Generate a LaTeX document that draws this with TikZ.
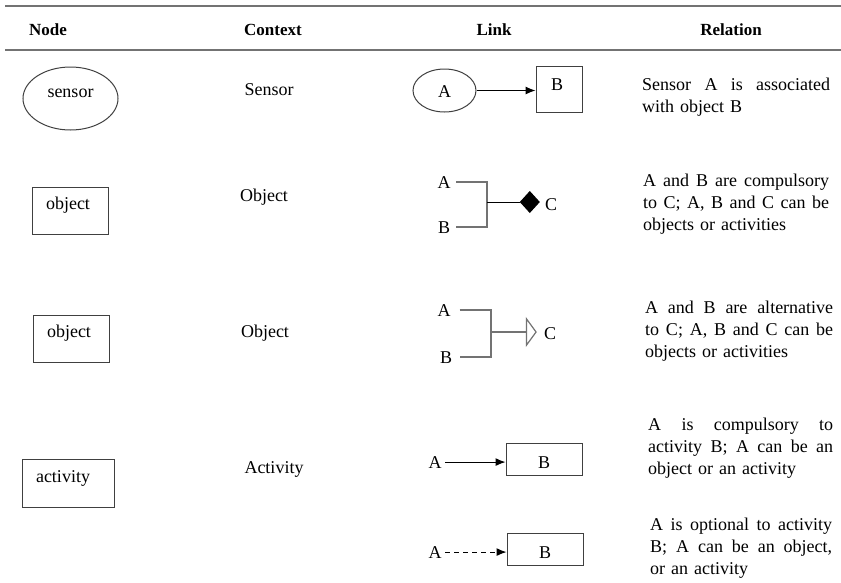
\documentclass[tikz,border=0pt]{standalone}
\usepackage{fontspec}
\setmainfont{Liberation Serif}
\usetikzlibrary{shapes.geometric,arrows.meta}
\newcommand{\jline}[2]{{\spaceskip=0pt\xspaceskip=0pt\makebox[#1][s]{#2}}}
\begin{document}
\begin{tikzpicture}[x=1pt,y=-1pt,
  every node/.style={font=\fontsize{18pt}{22pt}\selectfont, inner sep=0pt},
  hdr/.style={font=\fontsize{17pt}{22pt}\selectfont\bfseries, anchor=base},
  txt/.style={anchor=base},
  shp/.style={draw=black!75, line width=1pt},
  tablerule/.style={draw=black!55, line width=2pt},
  rel/.style={anchor=base west, align=left, text width=#1},
  arr/.style={-{Latex[length=10pt,width=8pt]}, line width=1pt},
  brk/.style={draw=black!55, line width=1.5pt},
]
\useasboundingbox (0,0) rectangle (841,582);
% table rules
\draw[tablerule] (5,6) -- (841,6);
\draw[tablerule] (5,50) -- (841,50);
% headers
\node[hdr] (hN) at (48,35) {Node};
\node[hdr] (hC) at (273,35) {Context};
\node[hdr] (hL) at (494,35) {Link};
\node[hdr] (hR) at (731,35) {Relation};

% ---- row 1
\node[shp, ellipse, minimum width=95pt, minimum height=63pt, text height=8pt, text depth=11pt] (sensor) at (70.5,98.5) {sensor};
\node[txt] (ctx1) at (269,95) {Sensor};
\node[shp, ellipse, minimum width=63pt, minimum height=43pt, text height=13pt, text depth=0pt] (a1) at (444.5,90.5) {A};
\node[shp, rectangle, minimum width=46pt, minimum height=46pt, text height=12pt, text depth=10pt] (b1) at (559,89) {B\kern4pt};
\draw[arr] (a1.east) -- (a1.east -| b1.west);
\node[rel=190pt] (r1) at (642,90) {\jline{188pt}{Sensor A is associated}\\with object B};

% ---- row 2
\node[shp, minimum width=76pt, minimum height=47pt, text height=8pt, text depth=11pt] (obj2) at (70,210.5) {object\kern4pt};
\node[txt] (ctx2) at (264,201) {Object};
\node[txt] (a2) at (444,188) {A};
\node[txt] (b2) at (444,233) {B};
\coordinate (j2) at (487,202);
\node[txt] (c2) at (551,210) {C};
\draw[brk] ([xshift=5.5pt]a2.east) -| (j2) |- ([xshift=6pt]b2.east);
\draw[line width=1pt, -{Turned Square[length=20pt,width=22pt]}, shorten >=5pt] (j2) -- (j2 -| c2.west);
\node[rel=190pt] (r2) at (643,186) {\jline{186pt}{A and B are compulsory}\\\jline{186pt}{to C; A, B and C can be}\\objects or activities};

% ---- row 3
\node[shp, minimum width=76pt, minimum height=47pt, text height=8pt, text depth=11pt] (obj3) at (71,338.5) {object\kern4pt};
\node[txt] (ctx3) at (265,337) {Object};
\node[txt] (a3) at (444,316) {A};
\node[txt] (b3) at (446,363) {B};
\coordinate (j3) at (491,332);
\node[txt] (c3) at (550,339) {C};
\draw[brk] ([xshift=9pt]a3.east) -| (j3) |- ([xshift=8pt]b3.east);
\draw[brk, -{Triangle[open, length=11pt, width=30pt, line width=1.2pt]}, shorten >=7pt] (j3) -- (j3 -| c3.west);
\node[rel=190pt] (r3) at (645,313) {\jline{188pt}{A and B are alternative}\\\jline{188pt}{to C; A, B and C can be}\\objects or activities};

% ---- row 4
\node[shp, minimum width=92pt, minimum height=48pt, text height=8pt, text depth=10pt] (act) at (68,483) {activity\kern10pt};
\node[txt] (ctx4) at (274,473) {Activity};
\node[txt] (a4) at (435,468) {A};
\node[shp, minimum width=76pt, minimum height=32pt, text height=18pt, text depth=0pt] (b4) at (544,459) {B};
\draw[arr] ([xshift=3.5pt]a4.east) -- (a4.east -| b4.west);
\node[rel=190pt] (r4) at (648,430) {\jline{185pt}{A is compulsory to}\\\jline{185pt}{activity B; A can be an}\\object or an activity};

% ---- row 5
\node[txt] (a5) at (435,558) {A};
\node[shp, minimum width=76pt, minimum height=32pt, text height=18pt, text depth=0pt] (b5) at (545,549) {B};
\draw[arr, dash pattern=on 5pt off 4pt] ([xshift=3.5pt]a5.east) -- (a5.east -| b5.west);
\node[rel=190pt] (r5) at (650,530) {\jline{182pt}{A is optional to activity}\\\jline{182pt}{B; A can be an object,}\\or an activity};
\end{tikzpicture}
\end{document}
